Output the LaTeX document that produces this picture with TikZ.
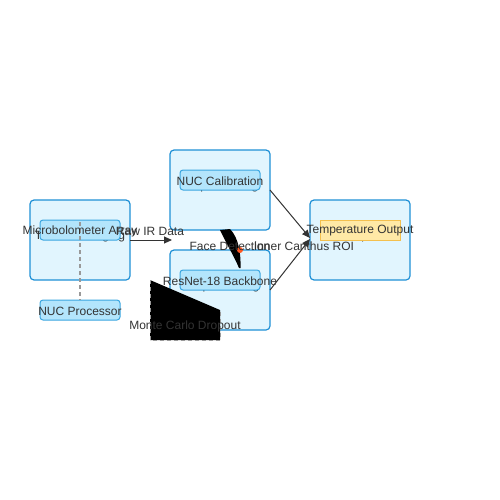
\documentclass[tikz,border=0pt]{standalone}
\usepackage{fontspec}
\setmainfont{Liberation Sans}
\usetikzlibrary{arrows.meta}
\definecolor{outerfill}{HTML}{E1F5FE}
\definecolor{outerdraw}{HTML}{1E90D6}
\definecolor{innerfill}{HTML}{B3E5FC}
\definecolor{innerdraw}{HTML}{3AA6E0}
\definecolor{yelfill}{HTML}{FFE9A6}
\definecolor{yeldraw}{HTML}{F4C04E}
\definecolor{txt}{HTML}{333333}
\definecolor{dot}{HTML}{FF5722}
\tikzset{
  outerbox/.style={draw=outerdraw, fill=outerfill, line width=1.2pt, rounded corners=4pt, minimum width=100pt, minimum height=80pt, inner sep=0pt},
  innerbox/.style={draw=innerdraw, fill=innerfill, line width=1pt, rounded corners=3pt, minimum width=80pt, minimum height=20pt, inner sep=0pt},
  yelbox/.style={draw=yeldraw, fill=yelfill, line width=1pt, minimum width=80pt, minimum height=20pt, inner sep=0pt},
  lbl/.style={text=txt, font=\fontsize{12pt}{14pt}\selectfont, inner sep=0pt},
  conn/.style={draw=txt, line width=1pt, -{Triangle[length=8pt,width=7pt]}},
}
\begin{document}
\begin{tikzpicture}[x=1pt,y=-1pt]
\useasboundingbox (0,0) rectangle (500,500);
% outer boxes
\node[outerbox] (b1) at (80,240) {};
\node[outerbox] (b2) at (220,190) {};
\node[outerbox] (b3) at (220,290) {};
\node[outerbox] (b4) at (360,240) {};
% hidden titles
\node[lbl] (t1) at (80,236.5) {Thermal Imaging};
\node[lbl] (t2) at (220,186.5) {Preprocessing};
\node[lbl] (t3) at (220,286.5) {Deep Learning};
\node[lbl] (t4) at (360,236.5) {Output};
% inner boxes
\node[innerbox] (i1) at (80,230) {};
\node[innerbox] (i2) at (220,180) {};
\node[innerbox] (i3) at (220,280) {};
\node[yelbox] (i4) at (360,230) {};
\node[innerbox] (np) at (80,310) {};
% dashed link
\coordinate (d1) at (80,222);
\draw[draw=gray!80, line width=1.2pt, dash pattern=on 4pt off 3pt] (d1) -- (np.north);
% black shapes
\coordinate (c1) at (220,230);
\coordinate (c2) at (239,268);
\coordinate (c3) at (240.5,268);
\coordinate (c4) at (230,229);
\fill[black] (c1) .. controls (226,243) and (234,256) .. (c2) -- (c3) .. controls (241,255) and (239,238) .. (c4) -- cycle;
\fill[dot] (240,250) circle (3pt);
\coordinate (p1) at (150,280);
\coordinate (p2) at (220,310);
\coordinate (p3) at (220,340);
\coordinate (p4) at (150,340);
\fill[black] (p1) -- (p2) -- (p3) -- (p4) -- cycle;
\draw[draw=gray!80, line width=1pt, dash pattern=on 4pt off 3pt] (p1) -- (p4) -- (p3) -- (p2);
% connectors
\coordinate (a1) at (130,240);
\coordinate (a2) at (172,240);
\draw[conn] (a1) -- (a2);
\coordinate (e1) at (270,190);
\coordinate (e2) at (310,238);
\coordinate (f1) at (270,290);
\coordinate (f2) at (310,239);
\draw[conn] (e1) -- (e2);
\draw[conn] (f1) -- (f2);
% labels
\node[lbl] (l1) at (80,231) {Microbolometer Array};
\node[lbl] (l2) at (220,181) {NUC Calibration};
\node[lbl] (l3) at (220,281) {ResNet-18 Backbone};
\node[lbl] (l4) at (360,231) {Temperature Output};
\node[lbl] (l5) at (80,311) {NUC Processor};
\node[lbl] (l6) at (150,231.5) {Raw IR Data};
\node[lbl] (l7) at (230,246.5) {Face Detection};
\node[lbl] (l8) at (304,246.5) {Inner Canthus ROI};
\node[lbl] (l9) at (185,326.5) {Monte Carlo Dropout};
\end{tikzpicture}
\end{document}
